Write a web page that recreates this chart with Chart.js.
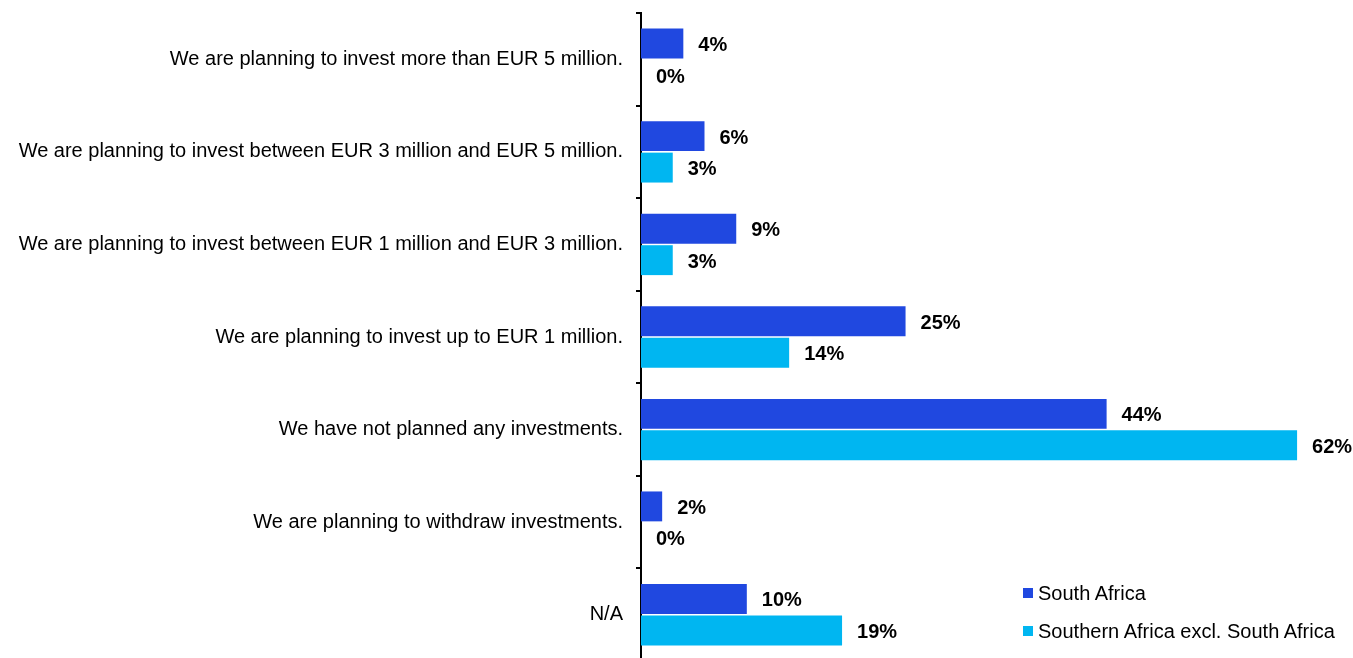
<!DOCTYPE html>
<html>
<head>
<meta charset="utf-8">
<script src="https://cdn.jsdelivr.net/npm/chart.js@4"></script>
<style>
  html, body { margin: 0; padding: 0; background: #fff; overflow: hidden; }
  .wrap { position: relative; width: 1353px; height: 661px; }
  .legend { position: absolute; left: 1023px; font-family: "Liberation Sans", Arial, sans-serif; font-size: 20px; color: #000; line-height: 22px; }
  .legend span { display: inline-block; width: 10px; height: 10px; margin-right: 5px; vertical-align: 2px; }
</style>
</head>
<body>
<div class="wrap">
  <canvas id="chart" width="1353" height="661"></canvas>
  <div class="legend" style="top:582px"><span style="background:#2048e0"></span>South Africa</div>
  <div class="legend" style="top:620px"><span style="background:#00b6f1"></span>Southern Africa excl. South Africa</div>
</div>
<script>
const categories = [
  "We are planning to invest more than EUR 5 million.",
  "We are planning to invest between EUR 3 million and EUR 5 million.",
  "We are planning to invest between EUR 1 million and EUR 3 million.",
  "We are planning to invest up to EUR 1 million.",
  "We have not planned any investments.",
  "We are planning to withdraw investments.",
  "N/A"
];
const southAfrica = [4, 6, 9, 25, 44, 2, 10];
const southernAfrica = [0, 3, 3, 14, 62, 0, 19];

// draw value labels right of each bar
const valueLabels = {
  id: "valueLabels",
  afterDatasetsDraw(chart) {
    const ctx = chart.ctx;
    ctx.save();
    ctx.font = "bold 20px 'Liberation Sans', Arial, sans-serif";
    ctx.fillStyle = "#000";
    ctx.textBaseline = "middle";
    ctx.textAlign = "left";
    chart.data.datasets.forEach((ds, i) => {
      chart.getDatasetMeta(i).data.forEach((bar, j) => {
        ctx.fillText(ds.data[j] + "%", bar.x + 15, bar.y + 2);
      });
    });
    ctx.restore();
  }
};

var ctx = document.getElementById("chart").getContext("2d");
var myChart = new Chart(ctx, {
  type: "bar",
  data: {
    labels: categories,
    datasets: [
      {
        label: "South Africa",
        data: southAfrica,
        backgroundColor: "#2048e0",
        categoryPercentage: 0.68,
        barPercentage: 0.95,
      },
      {
        label: "Southern Africa excl. South Africa",
        data: southernAfrica,
        backgroundColor: "#00b6f1",
        categoryPercentage: 0.68,
        barPercentage: 0.95,
      },
    ],
  },
  options: {
    indexAxis: "y",
    responsive: false,
    animation: false,
    layout: { padding: { top: 13, right: 3, bottom: 0, left: 0 } },
    plugins: {
      legend: { display: false },
      tooltip: { enabled: false },
    },
    scales: {
      x: {
        display: false,
        min: 0,
        max: 67,
      },
      y: {
        afterFit: (scale) => {
          scale.width = 641;
          scale.paddingTop = 0;
          scale.paddingBottom = 0;
        },
        border: { display: true, color: "#000", width: 2 },
        grid: {
          offset: true,
          drawOnChartArea: false,
          drawTicks: true,
          tickLength: 5,
          color: "#000",
          lineWidth: 2,
        },
        ticks: {
          color: "#000",
          padding: 13,
          font: { family: "'Liberation Sans', Arial, sans-serif", size: 20 },
        },
      },
    },
  },
  plugins: [valueLabels],
});
</script>
</body>
</html>
